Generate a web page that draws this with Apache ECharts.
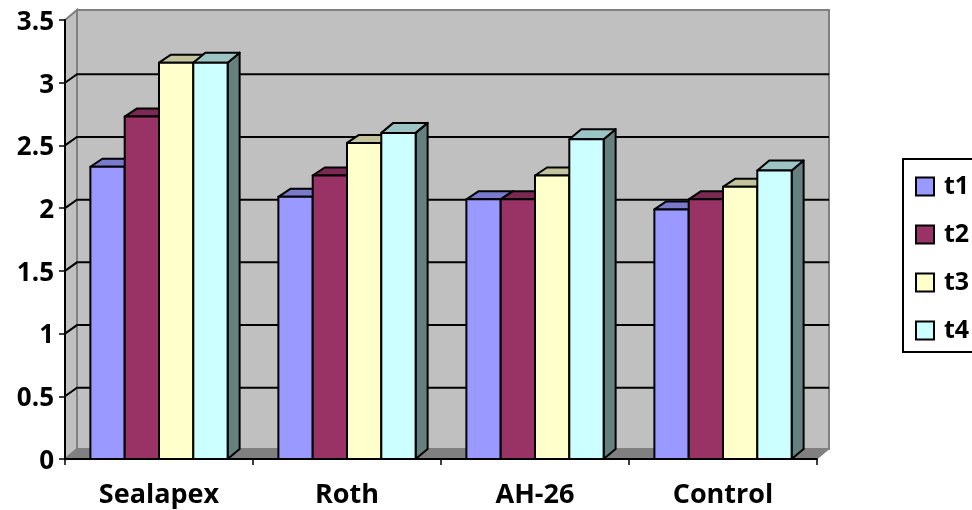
<!DOCTYPE html>
<html>
<head>
<meta charset="utf-8">
<style>html,body{margin:0;padding:0;background:#fff;overflow:hidden}#c{width:972px;height:510px}</style>
<script src="https://cdn.jsdelivr.net/npm/echarts@6/dist/echarts.min.js"></script>
</head>
<body>
<div id="c"></div>
<script>
const categories = ['Sealapex', 'Roth', 'AH-26', 'Control'];
const t1 = [2.33, 2.09, 2.07, 1.99];
const t2 = [2.73, 2.26, 2.07, 2.07];
const t3 = [3.16, 2.52, 2.26, 2.17];
const t4 = [3.16, 2.60, 2.55, 2.30];
const gridValues = [0.5, 1, 1.5, 2, 2.5, 3];
const seriesNames = ['t1', 't2', 't3', 't4'];
const seriesValues = [t1, t2, t3, t4];
const frontColors = ['#9999FF', '#993366', '#FFFFCC', '#CCFFFF'];
const topColors = ['#7A7ACC', '#7A2952', '#C4C49C', '#9CC4C4'];
const sideColors = ['#4D4D80', '#4D1A33', '#808066', '#668080'];
const FONT = '"Open Sans"';
const DX = 12, DY = 10;
const topRise = [8, 8, 8, 10];

const chart = echarts.init(document.getElementById('c'), null, {renderer: 'canvas'});

function renderWalls(params, api) {
  const cs = params.coordSys;
  const l = cs.x, r = cs.x + cs.width, t = cs.y, b = cs.y + cs.height;
  const kids = [];
  kids.push({type: 'polygon', shape: {points: [[l + DX, t - DY], [r + DX, t - DY], [r + DX, b - DY], [l + DX, b - DY]]},
    style: {fill: '#C0C0C0', stroke: '#808080', lineWidth: 2}});
  kids.push({type: 'polygon', shape: {points: [[l, t], [l + DX, t - DY], [l + DX, b - DY], [l, b]]},
    style: {fill: '#C0C0C0', stroke: '#808080', lineWidth: 2}});
  gridValues.forEach(function (v) {
    const y = api.coord([0, v])[1];
    kids.push({type: 'polyline', shape: {points: [[l, y], [l + DX, y - DY + 1.5], [r + DX, y - DY + 1.5]]},
      style: {fill: null, stroke: '#000', lineWidth: 2}});
  });
  kids.push({type: 'polygon', shape: {points: [[l, b], [r, b], [r + DX, b - DY], [l + DX, b - DY]]},
    style: {fill: '#808080', stroke: '#808080', lineWidth: 1}});
  return {type: 'group', children: kids};
}

function makeBarRender(idx) {
  return function (params, api) {
    const p = api.coord([api.value(0), api.value(1)]);
    const base = api.coord([api.value(0), 0]);
    const band = api.size([1, 0])[0];
    const w = band * 0.1825;
    const x0 = p[0] + (idx - 2) * w, x1 = x0 + w;
    const y = p[1], y0 = base[1];
    const rise = topRise[idx];
    const st = {stroke: '#000', lineWidth: 2, lineJoin: 'round'};
    return {type: 'group', children: [
      {type: 'polygon', shape: {points: [[x1, y], [x1 + DX, y - rise], [x1 + DX, y0 - DY], [x1, y0]]},
        style: Object.assign({fill: sideColors[idx]}, st)},
      {type: 'polygon', shape: {points: [[x0, y], [x1, y], [x1 + DX, y - rise], [x0 + DX, y - rise]]},
        style: Object.assign({fill: topColors[idx]}, st)},
      {type: 'rect', shape: {x: x0, y: y, width: w, height: y0 - y},
        style: Object.assign({fill: frontColors[idx]}, st)}
    ]};
  };
}

const series = [{
  type: 'custom', name: 'walls', silent: true, z: 1, clip: false,
  renderItem: renderWalls, data: [[categories[0], 0]], encode: {x: 0, y: 1}
}];
seriesValues.forEach(function (vals, idx) {
  series.push({
    type: 'custom', name: seriesNames[idx], silent: true, z: 3 + idx, clip: false,
    renderItem: makeBarRender(idx),
    itemStyle: {color: frontColors[idx]},
    data: vals.map(function (v, i) { return [categories[i], v]; }),
    encode: {x: 0, y: 1}
  });
});

chart.setOption({
  animation: false,
  backgroundColor: '#fff',
  grid: {left: 65, right: 155, top: 20, bottom: 51, containLabel: false},
  legend: {
    data: seriesNames, orient: 'vertical', left: 903, top: 159, icon: 'rect',
    itemWidth: 18, itemHeight: 18, itemGap: 23, padding: [15, 40, 9, 12],
    borderColor: '#000', borderWidth: 2, backgroundColor: '#fff',
    itemStyle: {borderColor: '#000', borderWidth: 2},
    textStyle: {fontFamily: FONT, fontWeight: 'bold', fontSize: 25, color: '#000', padding: [0, 0, 0, 5]},
    selectedMode: false
  },
  xAxis: {
    type: 'category', data: categories, z: 10,
    axisLine: {lineStyle: {color: '#000', width: 2}},
    axisTick: {show: true, length: 6, alignWithLabel: false, lineStyle: {color: '#000', width: 1.5}},
    axisLabel: {fontFamily: FONT, fontWeight: 'bold', fontSize: 27, color: '#000', margin: 23},
    splitLine: {show: false}
  },
  yAxis: {
    type: 'value', min: 0, max: 3.5, interval: 0.5, z: 10,
    axisLine: {show: true, lineStyle: {color: '#000', width: 2}},
    axisTick: {show: true, length: 6, lineStyle: {color: '#000', width: 1.5}},
    axisLabel: {color: '#000', margin: 11,
      formatter: function (v) { return '{a|' + v + '}'; },
      rich: {a: {fontFamily: FONT, fontWeight: 'bold', fontSize: 26, color: '#000', padding: [5, 0, 0, 0]}}},
    splitLine: {show: false}
  },
  series: series
});
</script>
</body>
</html>
